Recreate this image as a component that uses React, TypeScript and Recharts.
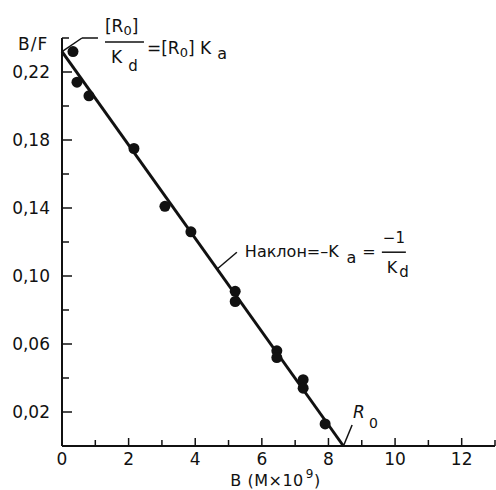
import {
  ComposedChart,
  ReferenceDot,
  ReferenceLine,
  Scatter,
  XAxis,
  YAxis,
} from "recharts";

// Scatchard plot: bound (B, M x 10^9) vs bound/free (B/F)
const bValues = [0.33, 0.45, 0.81, 2.16, 3.09, 3.87, 5.2, 5.2, 6.45, 6.45, 7.24, 7.24, 7.9];
const bfValues = [0.232, 0.214, 0.206, 0.175, 0.141, 0.126, 0.091, 0.085, 0.056, 0.052, 0.039, 0.034, 0.013];

const xTicks = [0, 1, 2, 3, 4, 5, 6, 7, 8, 9, 10, 11, 12, 13];
const xTickLabels = ["0", "", "2", "", "4", "", "6", "", "8", "", "10", "", "12", ""];
const yTicks = [0, 0.02, 0.04, 0.06, 0.08, 0.1, 0.12, 0.14, 0.16, 0.18, 0.2, 0.22, 0.24];
const yTickLabels = ["", "0,02", "", "0,06", "", "0,10", "", "0,14", "", "0,18", "", "0,22", ""];

// fitted line: B/F intercept [R0]/Kd, B intercept R0
const fitLine = [
  { x: 0, y: 0.232 },
  { x: 8.45, y: 0 },
];
const interceptLeader = [
  { x: 0, y: 0.232 },
  { x: 0.6, y: 0.24 },
  { x: 1.08, y: 0.24 },
];
const slopeLeader = [
  { x: 4.65, y: 0.104 },
  { x: 5.25, y: 0.114 },
];
const r0Leader = [
  { x: 8.45, y: 0 },
  { x: 8.71, y: 0.0124 },
];

const data = bValues.map((b, i) => ({ b, bf: bfValues[i] }));

const FONT = "'DejaVu Sans', sans-serif";
const INK = "#111";

const XTick = (props: any) => {
  const { x, y, payload } = props;
  const label = xTickLabels[xTicks.indexOf(payload.value)];
  return (
    <g>
      {payload.value !== 0 && (
        <line x1={x} x2={x} y1={y} y2={y - (label ? 8 : 6)} stroke={INK} strokeWidth={1.5} />
      )}
      {label && (
        <text x={x} y={y + 19} textAnchor="middle" fontSize={17} fontFamily={FONT} fill={INK}>
          {label}
        </text>
      )}
    </g>
  );
};

const YTick = (props: any) => {
  const { x, y, payload } = props;
  const label = yTickLabels[yTicks.indexOf(payload.value)];
  if (payload.value === 0) return <g />;
  return (
    <g>
      <line x1={x} x2={x + (label ? 10 : 7)} y1={y} y2={y} stroke={INK} strokeWidth={1.5} />
      {label && (
        <text x={x - 12} y={y + 6} textAnchor="end" fontSize={17} fontFamily={FONT} fill={INK}>
          {label}
        </text>
      )}
    </g>
  );
};

const XTitle = (props: any) => {
  const { viewBox } = props;
  return (
    <text
      x={viewBox.x + viewBox.width / 2 - 3}
      y={viewBox.y + 40}
      textAnchor="middle"
      fontSize={16}
      letterSpacing={0.5}
      fontFamily={FONT}
      fill={INK}
    >
      B (M×10
      <tspan dx={2} dy={-8} fontSize={12}>9</tspan>
      <tspan dy={8}>)</tspan>
    </text>
  );
};

const YTitle = (props: any) => {
  const { viewBox } = props;
  return (
    <text x={viewBox.x + 18} y={viewBox.y + 12} fontSize={17} letterSpacing={1} fontFamily={FONT} fill={INK}>
      B/F
    </text>
  );
};

const InterceptNote = (props: any) => {
  const { cx, cy } = props;
  return (
    <g fontFamily={FONT} fill={INK}>
      <text x={cx + 7} y={cy - 6} fontSize={17}>
        [R<tspan dy={3} fontSize={13}>0</tspan>
        <tspan dy={-3}>]</tspan>
      </text>
      <line x1={cx + 7} x2={cx + 46} y1={cy + 4} y2={cy + 4} stroke={INK} strokeWidth={1.5} />
      <text x={cx + 13} y={cy + 25} fontSize={17}>
        K<tspan dx={6} dy={8} fontSize={15}>d</tspan>
      </text>
      <text x={cx + 49} y={cy + 16} fontSize={17}>
        =[R<tspan dy={3} fontSize={13}>0</tspan>
        <tspan dy={-3}>] K</tspan>
        <tspan dx={6} dy={5} fontSize={16}>a</tspan>
      </text>
    </g>
  );
};

const SlopeNote = (props: any) => {
  const { cx, cy } = props;
  return (
    <g fontFamily={FONT} fill={INK}>
      <text x={cx + 8} y={cy + 5} fontSize={16}>
        Наклон=–K<tspan dx={8} dy={6} fontSize={16}>a</tspan>
        <tspan dx={6} dy={-6}>=</tspan>
      </text>
      <text x={cx + 146} y={cy - 9} fontSize={15}>
        −1
      </text>
      <line x1={cx + 145} x2={cx + 169} y1={cy} y2={cy} stroke={INK} strokeWidth={1.5} />
      <text x={cx + 150} y={cy + 21} fontSize={16}>
        K<tspan dx={2} dy={4} fontSize={15}>d</tspan>
      </text>
    </g>
  );
};

const R0Note = (props: any) => {
  const { cx, cy } = props;
  return (
    <text x={cx + 1} y={cy - 7} fontSize={17} fontStyle="italic" fontFamily={FONT} fill={INK}>
      R<tspan dx={4} dy={10} fontSize={14} fontStyle="normal">0</tspan>
    </text>
  );
};

const Dot = (props: any) => <circle cx={props.cx} cy={props.cy} r={5.5} fill={INK} />;

export default function App() {
  return (
    <div style={{ position: "absolute", left: 0, top: 0, background: "#fff", fontFamily: FONT }}>
      <ComposedChart width={496} height={490} data={data} margin={{ top: 38, right: 1, bottom: 0, left: 0 }}>
        <XAxis
          type="number"
          dataKey="b"
          domain={[0, 13]}
          ticks={xTicks}
          interval={0}
          height={44}
          axisLine={{ stroke: INK, strokeWidth: 2 }}
          tickLine={false}
          tickSize={0}
          tickMargin={0}
          tick={<XTick />}
          label={{ content: <XTitle /> }}
        />
        <YAxis
          type="number"
          dataKey="bf"
          domain={[0, 0.24]}
          ticks={yTicks}
          interval={0}
          width={62}
          axisLine={{ stroke: INK, strokeWidth: 2 }}
          tickLine={false}
          tickSize={0}
          tickMargin={0}
          tick={<YTick />}
          label={{ content: <YTitle /> }}
        />
        <ReferenceLine segment={fitLine} stroke={INK} strokeWidth={3} ifOverflow="visible" />
        <ReferenceLine segment={[interceptLeader[0], interceptLeader[1]]} stroke={INK} strokeWidth={1.5} ifOverflow="visible" />
        <ReferenceLine segment={[interceptLeader[1], interceptLeader[2]]} stroke={INK} strokeWidth={1.5} ifOverflow="visible" />
        <ReferenceLine segment={slopeLeader} stroke={INK} strokeWidth={1.5} ifOverflow="visible" />
        <ReferenceLine segment={r0Leader} stroke={INK} strokeWidth={1.5} ifOverflow="visible" />
        <Scatter dataKey="bf" shape={<Dot />} isAnimationActive={false} />
        <ReferenceDot x={interceptLeader[2].x} y={interceptLeader[2].y} r={0} ifOverflow="visible" shape={<InterceptNote />} />
        <ReferenceDot x={slopeLeader[1].x} y={slopeLeader[1].y} r={0} ifOverflow="visible" shape={<SlopeNote />} />
        <ReferenceDot x={r0Leader[1].x} y={r0Leader[1].y} r={0} ifOverflow="visible" shape={<R0Note />} />
      </ComposedChart>
    </div>
  );
}
